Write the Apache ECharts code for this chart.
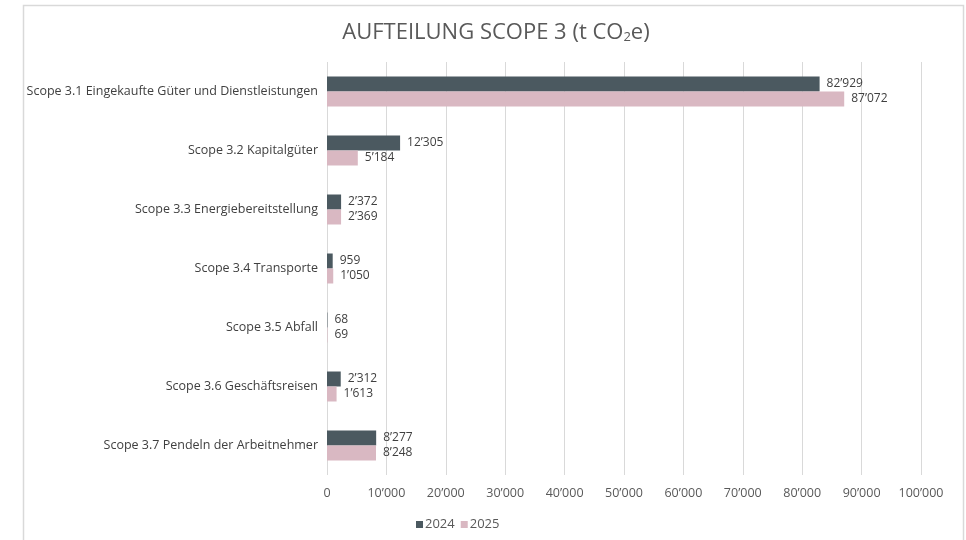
<!DOCTYPE html>
<html>
<head>
<meta charset="utf-8">
<script src="https://cdn.jsdelivr.net/npm/echarts@6/dist/echarts.min.js"></script>
<style>
  html, body { margin: 0; padding: 0; background: #fff; }
  #main { width: 966px; height: 540px; }
</style>
</head>
<body>
<div id="main"></div>
<script>
// Daten
const categories = [
  'Scope 3.1 Eingekaufte Güter und Dienstleistungen',
  'Scope 3.2 Kapitalgüter',
  'Scope 3.3 Energiebereitstellung',
  'Scope 3.4 Transporte',
  'Scope 3.5 Abfall',
  'Scope 3.6 Geschäftsreisen',
  'Scope 3.7 Pendeln der Arbeitnehmer'
]
const values2024 = [82929, 12305, 2372, 959, 68, 2312, 8277]
const values2025 = [87072, 5184, 2369, 1050, 69, 1613, 8248]
const years = ['2024', '2025']
const axisMax = 100000
const axisStep = 10000

const fmt = v => String(Math.round(v)).replace(/\B(?=(\d{3})+(?!\d))/g, '’')
const font = '"Open Sans", "Noto Sans", sans-serif'

const chart = echarts.init(document.getElementById('main'))

const barLabel = {
  show: true,
  position: 'right',
  distance: 7,
  color: '#404040',
  fontSize: 12,
  formatter: p => fmt(p.value)
}

const option = {
  backgroundColor: '#fff',
  textStyle: { fontFamily: font },
  graphic: [
    {
      type: 'rect',
      shape: { x: 23.5, y: 5.5, width: 940, height: 540 },
      style: { fill: 'none', stroke: '#d9d9d9', lineWidth: 1.5 }
    }
  ],
  title: {
    text: '{t|AUFTEILUNG SCOPE 3 (t CO}{s|2}{t|e)}',
    left: 491,
    textAlign: 'center',
    top: 16,
    textStyle: {
      rich: {
        t: { fontSize: 22, fontWeight: 'normal', color: '#595959', fontFamily: font },
        s: { fontSize: 13, fontWeight: 'normal', color: '#595959', fontFamily: font, padding: [10, 0, 0, 0] }
      }
    }
  },
  legend: {
    data: years,
    left: 411,
    top: 513,
    icon: 'rect',
    itemWidth: 7,
    itemHeight: 7,
    itemGap: 6,
    textStyle: { color: '#595959', fontSize: 13, padding: [0, 0, 0, -3] }
  },
  grid: {
    left: 327,
    top: 62,
    width: 594,
    height: 413,
    containLabel: false
  },
  xAxis: {
    type: 'value',
    min: 0,
    max: axisMax,
    interval: axisStep,
    axisLine: { show: false },
    axisTick: { show: false },
    axisLabel: {
      color: '#595959',
      fontSize: 12.5,
      margin: 12,
      formatter: fmt
    },
    splitLine: { lineStyle: { color: '#d9d9d9', width: 1 } }
  },
  yAxis: {
    type: 'category',
    data: categories,
    inverse: true,
    axisLine: { show: false },
    axisTick: { show: false },
    axisLabel: { color: '#404040', fontSize: 12.5, margin: 9 }
  },
  series: [
    {
      name: years[0],
      type: 'bar',
      data: values2024,
      barWidth: 15,
      barGap: '0%',
      itemStyle: { color: '#4b5960' },
      label: barLabel
    },
    {
      name: years[1],
      type: 'bar',
      data: values2025,
      barWidth: 15,
      barGap: '0%',
      itemStyle: { color: '#d9b8c2' },
      label: barLabel
    }
  ]
}
chart.setOption(option)
</script>
</body>
</html>
